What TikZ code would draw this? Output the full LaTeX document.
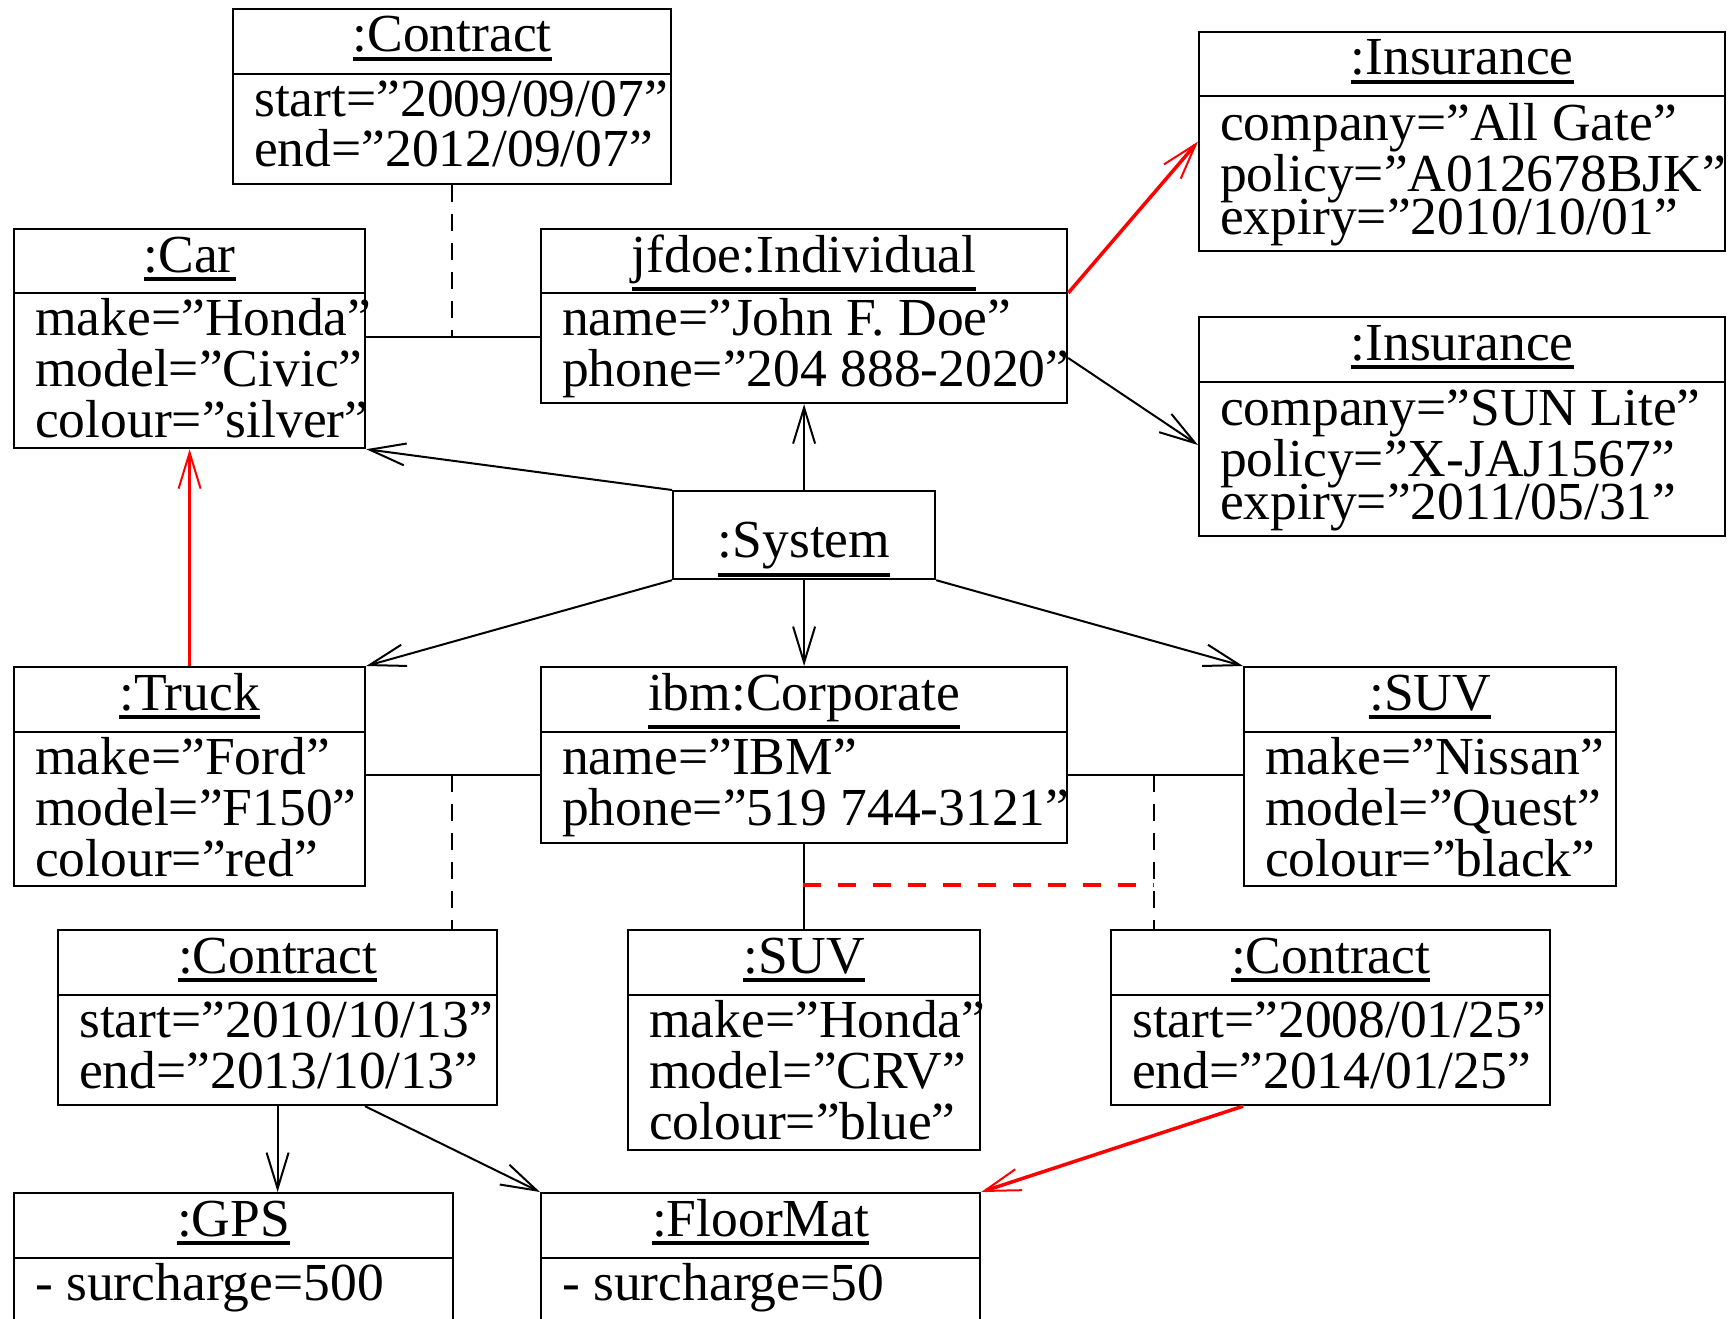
\documentclass[tikz,border=0pt]{standalone}
\usepackage{fontspec}
\setmainfont{Liberation Serif}
\usetikzlibrary{arrows.meta,calc}
\newcommand{\objname}[1]{\vtop{\hbox{#1}\kern4pt\hrule height 4pt}}
\begin{document}
\begin{tikzpicture}[x=1pt,y=-1pt]
  \tikzset{
    objbox/.style={draw, line width=2.2pt, inner sep=0pt, anchor=north west},
    objhead/.style={anchor=base, inner sep=0pt, font=\fontsize{53.5}{51}\selectfont},
    objattr/.style={anchor=base west, align=left, inner sep=0pt, font=\fontsize{53.5}{51}\selectfont},
    link/.style={line width=2pt},
    nav/.style={link, -{Straight Barb[length=36pt,width=22pt,line width=2pt]}},
    note/.style={line width=2pt, dash pattern=on 17pt off 12pt},
    hilite/.style={red, line width=3.5pt},
    hilitenav/.style={hilite, -{Straight Barb[length=36pt,width=22pt,line width=2pt]}}
  }
  \useasboundingbox (0,0) rectangle (1732,1319);

  % objects (attribute nodes sit on the baseline of their last line)
  \node[objbox, minimum width=438pt, minimum height=175pt] (con1) at (232,8) {};
  \draw[link] ($(con1.north west)+(0,66)$) -- ($(con1.north east)+(0,66)$);
  \node[objhead] at ($(con1.north)+(0,44)$) {\objname{:Contract}};
  \node[objattr] at ($(con1.north west)+(22,159)$) {start=''2009/09/07''\\end=''2012/09/07''};

  \node[objbox, minimum width=351pt, minimum height=219pt] (car) at (13,228) {};
  \draw[link] ($(car.north west)+(0,65)$) -- ($(car.north east)+(0,65)$);
  \node[objhead] at ($(car.north)+(0,44)$) {\objname{:Car}};
  \node[objattr] at ($(car.north west)+(22,209)$) {make=''Honda''\\model=''Civic''\\colour=''silver''};

  \node[objbox, minimum width=526pt, minimum height=174pt] (indiv) at (540,228) {};
  \draw[link] ($(indiv.north west)+(0,65)$) -- ($(indiv.north east)+(0,65)$);
  \node[objhead] at ($(indiv.north)+(0,44)$) {\objname{jfdoe:Individual}};
  \node[objattr] at ($(indiv.north west)+(22,158)$) {name=''John F. Doe''\\phone=''204 888-2020''};

  \node[objbox, minimum width=526pt, minimum height=219pt] (ins1) at (1198,31) {};
  \draw[link] ($(ins1.north west)+(0,65)$) -- ($(ins1.north east)+(0,65)$);
  \node[objhead] at ($(ins1.north)+(0,44)$) {\objname{:Insurance}};
  \node[objattr] at ($(ins1.north west)+(22,203)$) {company=''All Gate''\\policy=''A012678BJK''\\[-8pt]expiry=''2010/10/01''};

  \node[objbox, minimum width=526pt, minimum height=219pt] (ins2) at (1198,316) {};
  \draw[link] ($(ins2.north west)+(0,66)$) -- ($(ins2.north east)+(0,66)$);
  \node[objhead] at ($(ins2.north)+(0,44)$) {\objname{:Insurance}};
  \node[objattr] at ($(ins2.north west)+(22,203)$) {company=''SUN Lite''\\policy=''X-JAJ1567''\\[-8pt]expiry=''2011/05/31''};

  \node[objbox, minimum width=262pt, minimum height=88pt] (sys) at (672,490) {};
  \node[objhead] at ($(sys.north)+(0,67)$) {\objname{:System}};

  \node[objbox, minimum width=351pt, minimum height=219pt] (truck) at (13,666) {};
  \draw[link] ($(truck.north west)+(0,66)$) -- ($(truck.north east)+(0,66)$);
  \node[objhead] at ($(truck.north)+(0,44)$) {\objname{:Truck}};
  \node[objattr] at ($(truck.north west)+(22,210)$) {make=''Ford''\\model=''F150''\\colour=''red''};

  \node[objbox, minimum width=526pt, minimum height=176pt] (corp) at (540,666) {};
  \draw[link] ($(corp.north west)+(0,66)$) -- ($(corp.north east)+(0,66)$);
  \node[objhead] at ($(corp.north)+(0,44)$) {\objname{ibm:Corporate}};
  \node[objattr] at ($(corp.north west)+(22,159)$) {name=''IBM''\\phone=''519 744-3121''};

  \node[objbox, minimum width=372pt, minimum height=219pt] (suv1) at (1243,666) {};
  \draw[link] ($(suv1.north west)+(0,66)$) -- ($(suv1.north east)+(0,66)$);
  \node[objhead] at ($(suv1.north)+(0,44)$) {\objname{:SUV}};
  \node[objattr] at ($(suv1.north west)+(22,210)$) {make=''Nissan''\\model=''Quest''\\colour=''black''};

  \node[objbox, minimum width=439pt, minimum height=175pt] (con2) at (57,929) {};
  \draw[link] ($(con2.north west)+(0,66)$) -- ($(con2.north east)+(0,66)$);
  \node[objhead] at ($(con2.north)+(0,44)$) {\objname{:Contract}};
  \node[objattr] at ($(con2.north west)+(22,159)$) {start=''2010/10/13''\\end=''2013/10/13''};

  \node[objbox, minimum width=352pt, minimum height=220pt] (suv2) at (627,929) {};
  \draw[link] ($(suv2.north west)+(0,66)$) -- ($(suv2.north east)+(0,66)$);
  \node[objhead] at ($(suv2.north)+(0,44)$) {\objname{:SUV}};
  \node[objattr] at ($(suv2.north west)+(22,210)$) {make=''Honda''\\model=''CRV''\\colour=''blue''};

  \node[objbox, minimum width=439pt, minimum height=175pt] (con3) at (1110,929) {};
  \draw[link] ($(con3.north west)+(0,66)$) -- ($(con3.north east)+(0,66)$);
  \node[objhead] at ($(con3.north)+(0,44)$) {\objname{:Contract}};
  \node[objattr] at ($(con3.north west)+(22,159)$) {start=''2008/01/25''\\end=''2014/01/25''};

  \node[objbox, minimum width=439pt, minimum height=175pt] (gps) at (13,1192) {};
  \draw[link] ($(gps.north west)+(0,66)$) -- ($(gps.north east)+(0,66)$);
  \node[objhead] at ($(gps.north)+(0,44)$) {\objname{:GPS}};
  \node[objattr] at ($(gps.north west)+(22,108)$) {- surcharge=500};

  \node[objbox, minimum width=439pt, minimum height=175pt] (mat) at (540,1192) {};
  \draw[link] ($(mat.north west)+(0,66)$) -- ($(mat.north east)+(0,66)$);
  \node[objhead] at ($(mat.north)+(0,44)$) {\objname{:FloorMat}};
  \node[objattr] at ($(mat.north west)+(22,108)$) {- surcharge=50};

  % links
  \coordinate (a1) at (452,337);
  \draw[link] (a1 -| car.east) -- (a1 -| indiv.west);
  \draw[note] (con1.south) -- (con1.south |- a1);
  \draw[hilitenav] ($(indiv.north east)+(0,65)$) -- (ins1.west);
  \draw[nav] ($(indiv.north east)+(0,130)$) -- ($(ins2.north west)+(0,129)$);
  \draw[nav] (sys.north west) -- (car.south east);
  \draw[nav] (sys.north) -- (indiv.south);
  \draw[nav] (sys.south west) -- (truck.north east);
  \draw[nav] (sys.south) -- (corp.north);
  \draw[nav] (sys.south east) -- (suv1.north west);
  \draw[hilitenav] (truck.north) -- (car.south);

  \coordinate (a2) at (452,775);
  \draw[link] (a2 -| truck.east) -- (a2 -| corp.west);
  \draw[note] (a2) -- (a2 |- con2.north);
  \coordinate (a3) at (1154,775);
  \draw[link] (a3 -| corp.east) -- (a3 -| suv1.west);
  \draw[note] (a3) -- (a3 |- con3.north);
  \draw[link] (corp.south) -- (suv2.north);
  \coordinate (a4) at (803,885);
  \draw[hilite, dash pattern=on 18pt off 17pt] (a4) -- (a4 -| a3);

  \draw[nav] (con2.south) -- (con2.south |- gps.north);
  \draw[nav] ($(con2.south west)+(308,0)$) -- (mat.north west);
  \draw[hilitenav] ($(con3.south west)+(133,0)$) -- (mat.north east);
\end{tikzpicture}
\end{document}
